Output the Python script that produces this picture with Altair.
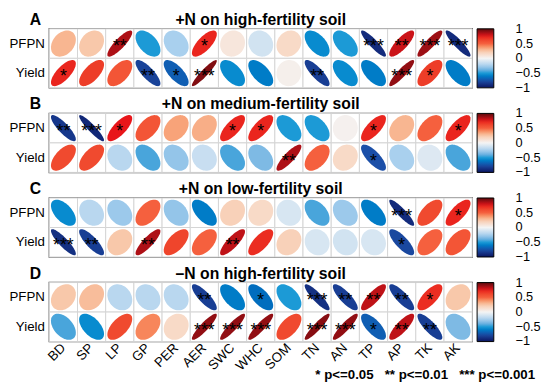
import math
import altair as alt
import pandas as pd

COLS = ["BD", "SP", "LP", "GP", "PER", "AER", "SWC", "WHC", "SOM", "TN", "AN", "TP", "AP", "TK", "AK"]
ROWS = ["PFPN", "Yield"]
LETTERS = ["A", "B", "C", "D"]
TITLES = ["+N on high-fertility soil", "+N on medium-fertility soil",
          "+N on low-fertility soil", "\u2013N on high-fertility soil"]

# correlations and significance stars
a_pfpn = [0.30, 0.25, 0.85, -0.50, -0.25, 0.72, 0.08, -0.12, 0.15, -0.55, -0.50, -0.90, 0.80, 0.88, -0.90]
a_pfpn_sig = ["", "", "**", "", "", "*", "", "", "", "", "", "***", "**", "***", "***"]
a_yield = [0.72, 0.65, 0.55, -0.80, -0.70, 0.93, -0.55, -0.60, 0.03, -0.82, -0.55, -0.60, 0.90, 0.65, -0.60]
a_yield_sig = ["*", "", "", "**", "*", "***", "", "", "", "**", "", "", "***", "*", ""]

b_pfpn = [-0.85, -0.92, 0.75, 0.55, 0.35, 0.32, 0.72, 0.72, -0.50, -0.50, 0.02, 0.72, 0.30, 0.50, 0.72]
b_pfpn_sig = ["**", "***", "*", "", "", "", "*", "*", "", "", "", "*", "", "", "*"]
b_yield = [0.60, 0.60, -0.20, -0.45, -0.30, -0.15, -0.45, -0.35, 0.85, 0.50, 0.15, -0.75, -0.25, -0.08, -0.45]
b_yield_sig = ["", "", "", "", "", "", "", "", "**", "", "", "*", "", "", ""]

c_pfpn = [-0.55, -0.20, -0.28, 0.50, -0.30, -0.60, 0.20, 0.15, -0.10, -0.45, -0.28, -0.60, -0.90, 0.60, 0.72]
c_pfpn_sig = ["", "", "", "", "", "", "", "", "", "", "", "", "***", "", "*"]
c_yield = [-0.88, -0.82, 0.25, 0.85, 0.62, 0.50, 0.82, 0.70, 0.20, -0.10, -0.12, -0.10, -0.78, 0.50, 0.55]
c_yield_sig = ["***", "**", "", "**", "", "", "**", "", "", "", "", "", "*", "", ""]

d_pfpn = [0.25, 0.28, -0.20, -0.20, -0.20, -0.82, -0.60, -0.65, -0.50, -0.88, -0.82, 0.82, -0.82, 0.70, 0.25]
d_pfpn_sig = ["", "", "", "", "", "**", "", "*", "", "***", "**", "**", "**", "*", ""]
d_yield = [-0.45, -0.55, 0.60, 0.42, 0.15, 0.90, 0.90, 0.90, 0.60, 0.92, 0.90, -0.70, 0.82, -0.82, -0.35]
d_yield_sig = ["", "", "", "", "", "***", "***", "***", "", "***", "***", "*", "**", "**", ""]

PANELS = [
    (a_pfpn, a_pfpn_sig, a_yield, a_yield_sig),
    (b_pfpn, b_pfpn_sig, b_yield, b_yield_sig),
    (c_pfpn, c_pfpn_sig, c_yield, c_yield_sig),
    (d_pfpn, d_pfpn_sig, d_yield, d_yield_sig),
]

COLOR_STOPS = [-1, -0.75, -0.5, -0.25, 0, 0.25, 0.5, 0.75, 1]
COLOR_RANGE = ["#0A1560", "#1B4FA8", "#1C9AD6", "#A9D0EE", "#F4F4F4",
               "#F8C8AA", "#F5603E", "#E8161A", "#5C0A0A"]
# legend ticks at 1, 0.5, 0, -0.5, -1 (ends set a hair inside so labels centre on the ends)
LEGEND_VALUES = [-0.999, -0.5, 0, 0.5, 0.999]
NOTE = "* p<=0.05\u00a0\u00a0\u00a0** p<=0.01\u00a0\u00a0\u00a0*** p<=0.001"

FONT = "Liberation Sans"
W, H = 430, 60


def ellipse_path(r, n=60):
    """corrplot-style ellipse outline for correlation r (unit symbol coords)."""
    d = math.acos(max(-0.999, min(0.999, r)))
    pts = []
    for k in range(n):
        t = 2 * math.pi * k / n
        x = math.cos(t + d / 2)
        y = -math.cos(t - d / 2) * 1.05
        pts.append(f"{x:.3f},{y:.3f}")
    return "M" + "L".join(pts) + "Z"


charts = []
for i, (rp, sp, ry, sy) in enumerate(PANELS):
    recs = []
    for j, c in enumerate(COLS):
        recs.append(dict(col=c, row="PFPN", r=rp[j], sig=sp[j], path=ellipse_path(rp[j])))
        recs.append(dict(col=c, row="Yield", r=ry[j], sig=sy[j], path=ellipse_path(ry[j])))
    df = pd.DataFrame(recs)
    last = i == len(PANELS) - 1

    if last:
        xaxis = alt.Axis(title=None, labelAngle=-45, labelFontSize=13.5, ticks=False,
                         domain=False, labelPadding=4, labelAlign="right",
                         labelBaseline="middle", labelColor="black")
    else:
        xaxis = None
    x = alt.X("col:N", sort=COLS, axis=xaxis,
              scale=alt.Scale(paddingInner=0, paddingOuter=0))
    y = alt.Y("row:N", sort=ROWS,
              axis=alt.Axis(title=None, ticks=False, domain=False, labelFontSize=13.5,
                            labelPadding=5, labelColor="black"),
              scale=alt.Scale(paddingInner=0, paddingOuter=0))

    base = alt.Chart(df)
    grid = base.mark_rect(fill="white", stroke="#d4d4d4", strokeWidth=1).encode(x=x, y=y)
    ell = base.mark_point(filled=True, opacity=1, strokeWidth=0).encode(
        x=x, y=y,
        shape=alt.Shape("path:N", scale=None),
        size=alt.value(640),
        color=alt.Color("r:Q",
                        scale=alt.Scale(domain=COLOR_STOPS, range=COLOR_RANGE),
                        legend=alt.Legend(title=None, orient="right", offset=5,
                                          type="gradient", direction="vertical",
                                          gradientLength=H, gradientThickness=17,
                                          gradientStrokeColor="black",
                                          gradientStrokeWidth=1,
                                          labelFontSize=13, labelColor="black",
                                          values=LEGEND_VALUES, labelOverlap=False,
                                          format=".1~f",
                                          labelAlign="center", labelOffset=22,
                                          labelBaseline="middle")),
    )
    stars = base.mark_text(fontSize=18, baseline="alphabetic", dy=9, color="black",
                           font=FONT).encode(x=x, y=y, text="sig:N")
    letter = alt.Chart(pd.DataFrame({"t": [LETTERS[i]]})).mark_text(
        fontSize=16, fontWeight="bold", font=FONT, align="center", baseline="middle",
        color="black"
    ).encode(x=alt.value(-14), y=alt.value(-9), text="t:N")
    title = alt.Chart(pd.DataFrame({"t": [TITLES[i]]})).mark_text(
        fontSize=16, fontWeight="bold", font=FONT, align="center", baseline="middle",
        color="black"
    ).encode(x=alt.value(W / 2), y=alt.value(-9), text="t:N")
    layers = [grid, ell, stars, letter, title]
    if last:
        note = alt.Chart(pd.DataFrame({"t": [NOTE]})).mark_text(
            fontSize=13.5, fontWeight="bold", font=FONT, align="right",
            baseline="middle", color="black"
        ).encode(x=alt.value(W + 64), y=alt.value(H + 34), text="t:N")
        layers.append(note)
    panel = alt.layer(*layers).properties(width=W, height=H)
    charts.append(panel)

chart = alt.vconcat(*charts, spacing=0).resolve_scale(
    color="independent"
).resolve_legend(color="independent").properties(
    padding={"left": 0, "top": 0, "right": 0, "bottom": 0}
).configure(font=FONT).configure_view(stroke="#555555", strokeWidth=1.5)

chart.save("out.html", embed_options={"renderer": "svg", "actions": False})
